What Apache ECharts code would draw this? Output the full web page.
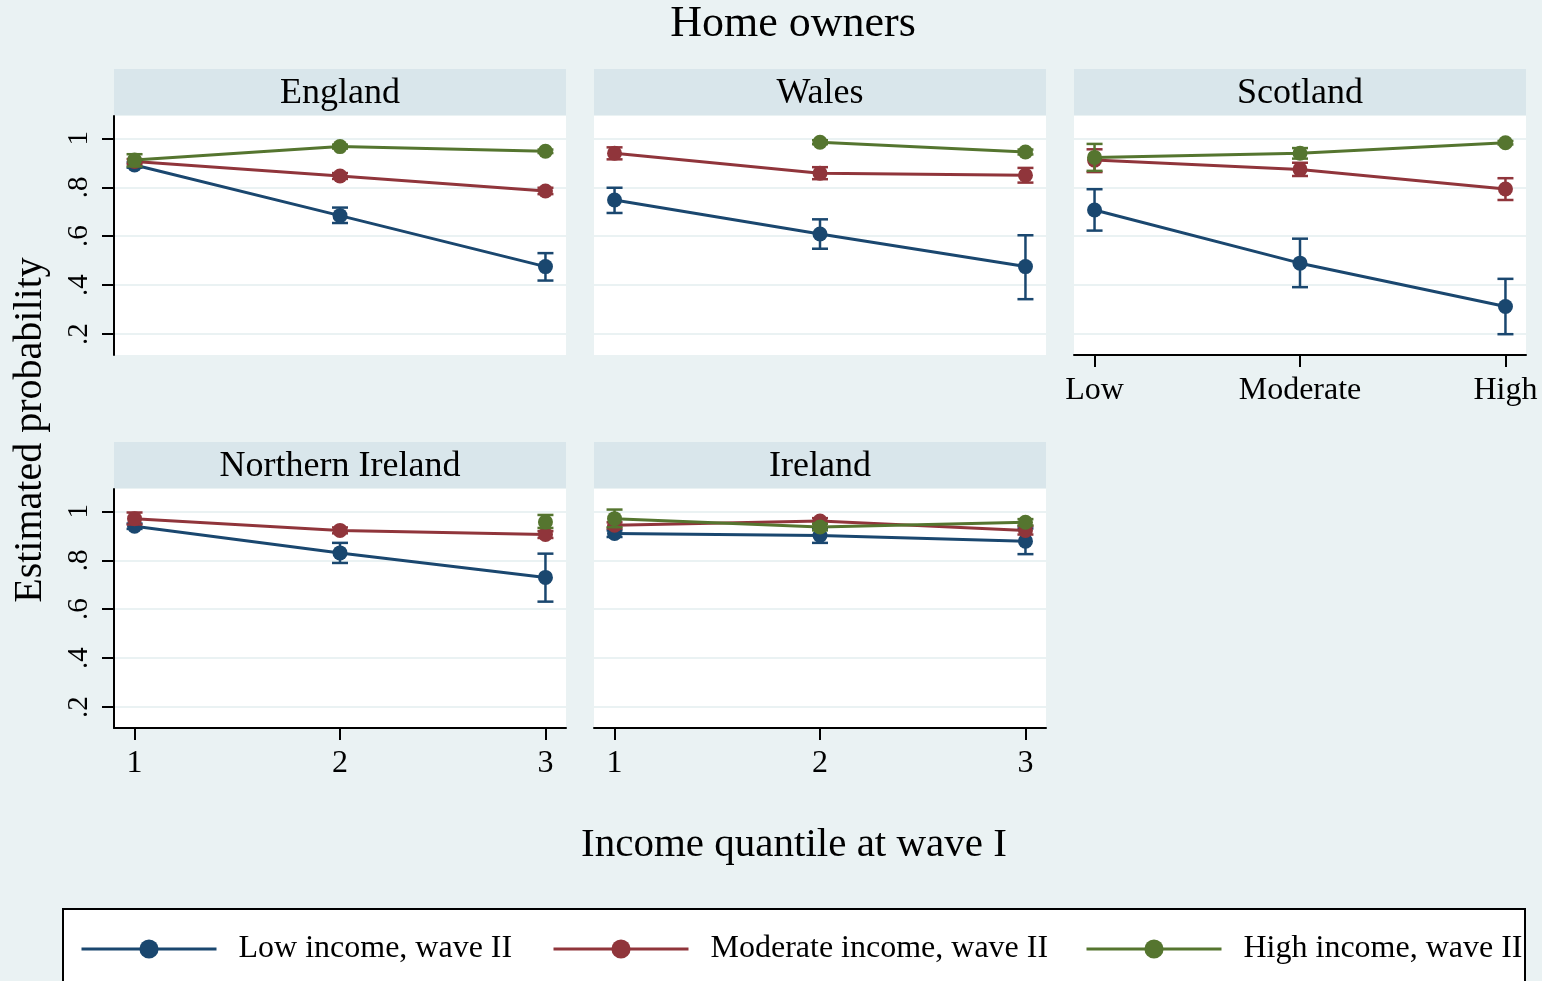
<!DOCTYPE html>
<html>
<head>
<meta charset="utf-8">
<script src="https://cdn.jsdelivr.net/npm/echarts@6/dist/echarts.min.js"></script>
<style>
html,body{margin:0;padding:0;background:#EAF2F3;}
#chart{width:1542px;height:981px;}
</style>
</head>
<body>
<div id="chart"></div>
<script>
// ---- data ----
const xValues = [1, 2, 3];
const xTickLabels = ['1', '2', '3'];
const scotlandTickLabels = ['Low', 'Moderate', 'High'];
const yTickValues = [0.2, 0.4, 0.6, 0.8, 1];
const yTickLabels = ['.2', '.4', '.6', '.8', '1'];
const seriesNames = ['Low income, wave II', 'Moderate income, wave II', 'High income, wave II'];
const panelNames = ['England', 'Wales', 'Scotland', 'Northern Ireland', 'Ireland'];

const englandLow = [0.891, 0.684, 0.476];
const englandLowCI = [[0.880, 0.902], [0.654, 0.717], [0.419, 0.531]];
const englandMod = [0.905, 0.846, 0.785];
const englandModCI = [[0.895, 0.915], [0.834, 0.858], [0.772, 0.798]];
const englandHigh = [0.911, 0.966, 0.947];
const englandHighCI = [[0.885, 0.935], [0.958, 0.974], [0.940, 0.954]];

const walesLow = [0.748, 0.609, 0.476];
const walesLowCI = [[0.695, 0.798], [0.549, 0.669], [0.343, 0.604]];
const walesMod = [0.939, 0.857, 0.849];
const walesModCI = [[0.914, 0.963], [0.833, 0.882], [0.819, 0.879]];
const walesHigh = [null, 0.984, 0.944];
const walesHighCI = [null, [0.976, 0.992], [0.934, 0.954]];

const scotlandLow = [0.707, 0.490, 0.313];
const scotlandLowCI = [[0.623, 0.792], [0.392, 0.590], [0.200, 0.426]];
const scotlandMod = [0.911, 0.873, 0.793];
const scotlandModCI = [[0.862, 0.955], [0.846, 0.900], [0.748, 0.837]];
const scotlandHigh = [0.922, 0.939, 0.982];
const scotlandHighCI = [[0.867, 0.977], [0.917, 0.960], [0.975, 0.989]];

const nIrelandLow = [0.939, 0.830, 0.730];
const nIrelandLowCI = [[0.928, 0.950], [0.789, 0.871], [0.631, 0.827]];
const nIrelandMod = [0.970, 0.922, 0.905];
const nIrelandModCI = [[0.946, 0.995], [0.910, 0.934], [0.891, 0.919]];
const nIrelandHigh = [null, null, 0.956];
const nIrelandHighCI = [null, null, [0.932, 0.985]];

const irelandLow = [0.909, 0.901, 0.878];
const irelandLowCI = [[0.895, 0.922], [0.871, 0.930], [0.825, 0.930]];
const irelandMod = [0.943, 0.960, 0.922];
const irelandModCI = [[0.930, 0.955], [0.948, 0.972], [0.905, 0.940]];
const irelandHigh = [0.970, 0.936, 0.955];
const irelandHighCI = [[0.935, 1.007], [0.922, 0.950], [0.942, 0.968]];

// ---- layout / style ----
const colors = ['#1A476F', '#90353B', '#55752F'];
const FONT = '"Liberation Serif", "DejaVu Serif", serif';
const panels = [
  { name: panelNames[0], est: [englandLow, englandMod, englandHigh], ci: [englandLowCI, englandModCI, englandHighCI], left: 114, top: 116, yAxis: true, xAxis: false, labels: xTickLabels },
  { name: panelNames[1], est: [walesLow, walesMod, walesHigh], ci: [walesLowCI, walesModCI, walesHighCI], left: 594, top: 116, yAxis: false, xAxis: false, labels: xTickLabels },
  { name: panelNames[2], est: [scotlandLow, scotlandMod, scotlandHigh], ci: [scotlandLowCI, scotlandModCI, scotlandHighCI], left: 1074, top: 116, yAxis: false, xAxis: true, labels: scotlandTickLabels },
  { name: panelNames[3], est: [nIrelandLow, nIrelandMod, nIrelandHigh], ci: [nIrelandLowCI, nIrelandModCI, nIrelandHighCI], left: 114, top: 489, yAxis: true, xAxis: true, labels: xTickLabels },
  { name: panelNames[4], est: [irelandLow, irelandMod, irelandHigh], ci: [irelandLowCI, irelandModCI, irelandHighCI], left: 594, top: 489, yAxis: false, xAxis: true, labels: xTickLabels }
];
const PW = 452, PH = 239;

const grids = [], xAxes = [], yAxes = [], series = [], graphics = [];

panels.forEach((p, i) => {
  grids.push({ left: p.left, top: p.top, width: PW, height: PH, show: true, backgroundColor: '#FFFFFF', borderWidth: 0, containLabel: false });
  xAxes.push({
    gridIndex: i, type: 'value', min: 0.9, max: 3.1,
    axisLine: { show: p.xAxis, onZero: false, lineStyle: { color: '#000', width: 2 } },
    axisTick: { show: p.xAxis, customValues: xValues, length: 12, lineStyle: { color: '#000', width: 2 } },
    axisLabel: { show: p.xAxis, customValues: xValues, margin: 20, color: '#000', fontFamily: FONT, fontSize: 32,
      formatter: v => p.labels[xValues.indexOf(v)] },
    splitLine: { show: false }
  });
  yAxes.push({
    gridIndex: i, type: 'value', min: 0.115, max: 1.091,
    axisLine: { show: p.yAxis, onZero: false, lineStyle: { color: '#000', width: 2 } },
    axisTick: { show: p.yAxis, customValues: yTickValues, length: 12, lineStyle: { color: '#000', width: 2 } },
    axisLabel: { show: p.yAxis, customValues: yTickValues, rotate: 90, margin: 20, color: '#000', fontFamily: FONT, fontSize: 29,
      formatter: v => yTickLabels[yTickValues.indexOf(v)] },
    splitLine: { show: true, lineStyle: { color: '#EAF2F3', width: 2 } }
  });
  // strip
  graphics.push({ type: 'rect', shape: { x: p.left, y: p.top - 47, width: PW, height: 46 }, style: { fill: '#D9E6EB' }, silent: true });
  graphics.push({ type: 'text', x: p.left + PW / 2, y: p.top - 22, style: { text: p.name, font: '36px ' + FONT, fill: '#000', textAlign: 'center', textVerticalAlign: 'middle' }, silent: true });

  for (let s = 0; s < 3; s++) {
    const ciData = [];
    p.ci[s].forEach((c, k) => { if (c) ciData.push([xValues[k], c[0], c[1]]); });
    const col = colors[s];
    series.push({
      type: 'custom', xAxisIndex: i, yAxisIndex: i, z: 2 + s * 2, silent: true,
      encode: { x: 0, y: [1, 2] },
      data: ciData,
      renderItem: (params, api) => {
        const x = api.value(0);
        const lo = api.coord([x, api.value(1)]);
        const hi = api.coord([x, api.value(2)]);
        const cap = 8;
        const st = { stroke: col, lineWidth: 2.5 };
        return { type: 'group', children: [
          { type: 'line', shape: { x1: lo[0], y1: lo[1], x2: hi[0], y2: hi[1] }, style: st },
          { type: 'line', shape: { x1: lo[0] - cap, y1: lo[1], x2: lo[0] + cap, y2: lo[1] }, style: st },
          { type: 'line', shape: { x1: hi[0] - cap, y1: hi[1], x2: hi[0] + cap, y2: hi[1] }, style: st }
        ]};
      }
    });
    series.push({
      type: 'line', name: seriesNames[s], xAxisIndex: i, yAxisIndex: i, z: 3 + s * 2, silent: true,
      data: p.est[s].map((v, k) => [xValues[k], v == null ? '-' : v]),
      symbol: 'circle', symbolSize: 15, showSymbol: true,
      connectNulls: false,
      lineStyle: { color: col, width: 3 },
      itemStyle: { color: col },
      emphasis: { disabled: true }
    });
  }
});

// titles and legend box
graphics.push({ type: 'text', x: 793, y: 24, style: { text: 'Home owners', font: '44px ' + FONT, fill: '#000', textAlign: 'center', textVerticalAlign: 'middle' }, silent: true });
graphics.push({ type: 'text', x: 30, y: 430, rotation: Math.PI / 2, style: { text: 'Estimated probability', font: '40px ' + FONT, fill: '#000', textAlign: 'center', textVerticalAlign: 'middle' }, silent: true });
graphics.push({ type: 'text', x: 794, y: 845, style: { text: 'Income quantile at wave I', font: '41px ' + FONT, fill: '#000', textAlign: 'center', textVerticalAlign: 'middle' }, silent: true });
graphics.push({ type: 'rect', z: -1, shape: { x: 63, y: 909, width: 1462, height: 120 }, style: { fill: '#FFFFFF', stroke: '#000', lineWidth: 2 }, silent: true });

const legendLefts = [80, 552, 1085];
const legends = seriesNames.map((n, s) => ({
  data: [n], left: legendLefts[s], top: 933, padding: 0,
  itemWidth: 135, itemHeight: 24, selectedMode: false,
  lineStyle: { width: 3 },
  textStyle: { fontFamily: FONT, fontSize: 32, color: '#000', padding: [0, 0, 0, 17] }
}));

const chart = echarts.init(document.getElementById('chart'), null, { renderer: 'canvas' });
chart.setOption({
  backgroundColor: '#EAF2F3',
  animation: false,
  grid: grids,
  xAxis: xAxes,
  yAxis: yAxes,
  legend: legends,
  graphic: graphics,
  series: series
});
</script>
</body>
</html>
